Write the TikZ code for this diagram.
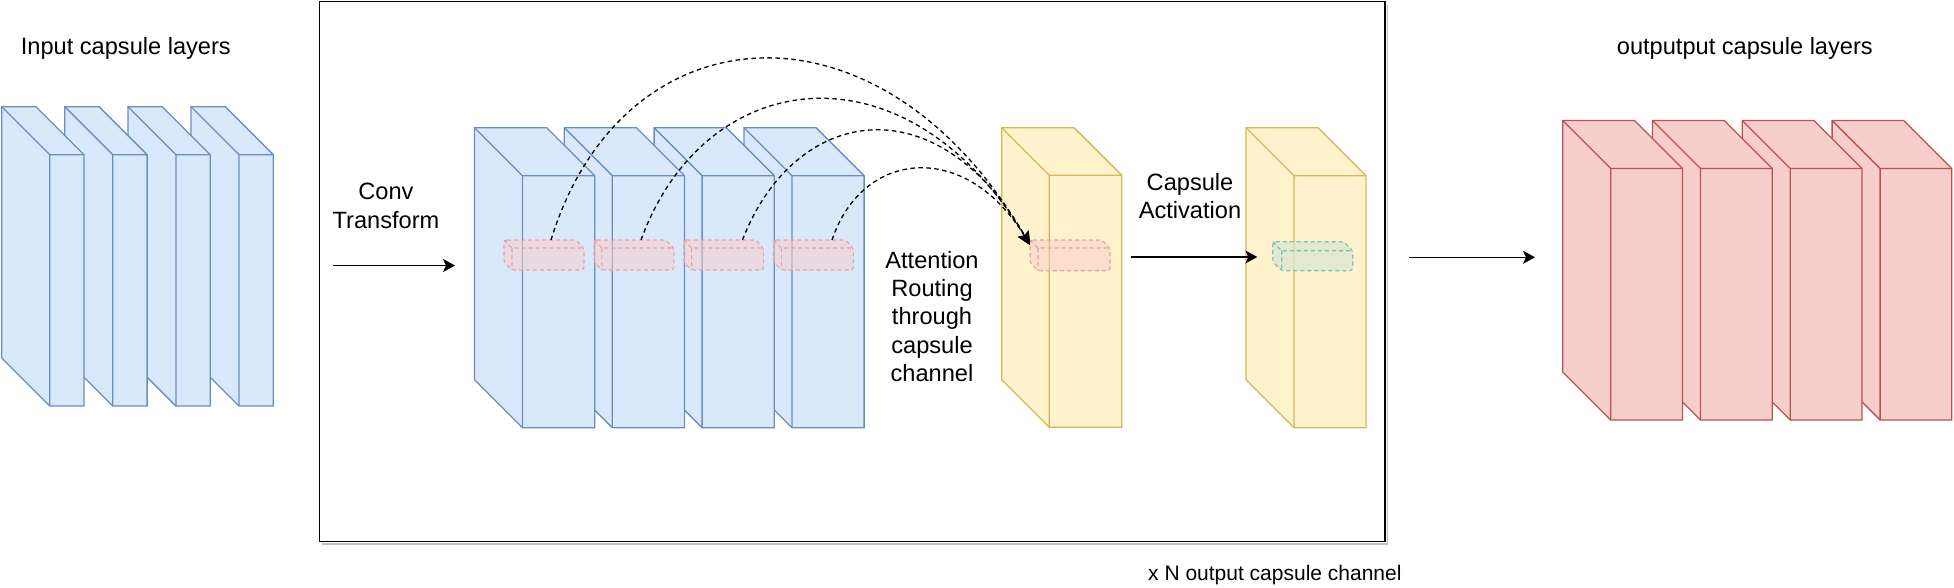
\documentclass[tikz,border=0pt]{standalone}
\usepackage{fontspec}
\setmainfont{Liberation Sans}
\usetikzlibrary{arrows.meta}
\definecolor{bluefill}{HTML}{DAE8FC}
\definecolor{bluedraw}{HTML}{6C8EBF}
\definecolor{yelfill}{HTML}{FFF2CC}
\definecolor{yeldraw}{HTML}{D6B656}
\definecolor{redfill}{HTML}{F8CECC}
\definecolor{reddraw}{HTML}{B85450}
\definecolor{greenfill}{HTML}{D5E8D4}
\definecolor{pinkdash}{RGB}{232,160,160}
\definecolor{tealdash}{RGB}{120,192,182}
\newcommand{\cubebox}[6]{%
 \draw[#6] (#1,#2) -- ({#1+#3-#5},#2) -- ({#1+#3},{#2+#5}) -- ({#1+#3},{#2+#4}) -- ({#1+#5},{#2+#4}) -- (#1,{#2+#4-#5}) -- cycle;
 \draw[#6,fill=none,sharp corners] (#1,#2) -- ({#1+#5},{#2+#5}) -- ({#1+#3},{#2+#5}) ({#1+#5},{#2+#5}) -- ({#1+#5},{#2+#4});
}
\tikzset{
 bluecube/.style={fill=bluefill, draw=bluedraw, line width=1.3pt},
 yelcube/.style={fill=yelfill, draw=yeldraw, line width=1.3pt},
 redcube/.style={fill=redfill, draw=reddraw, line width=1.3pt},
 pinkbox/.style={fill=redfill, fill opacity=0.55, draw=pinkdash, dash pattern=on 4pt off 3pt, line width=1.1pt, rounded corners=3pt},
 greenbox/.style={fill=greenfill, fill opacity=0.7, draw=tealdash, dash pattern=on 4pt off 3pt, line width=1.1pt, rounded corners=3pt},
 flow/.style={line width=1.3pt, -{Stealth[length=12pt,width=13pt,inset=3pt]}},
 route/.style={line width=1.3pt, dash pattern=on 4.5pt off 3.5pt, -{Stealth[length=13pt,width=12pt,inset=2pt]}},
 txt/.style={font=\fontsize{23.6}{28.3}\selectfont, inner sep=0pt, align=center},
}
\begin{document}
\begin{tikzpicture}[x=1pt,y=-1pt]
\useasboundingbox (0,0) rectangle (1954,588);
\fill[white] (0,0) rectangle (1954,588);
% frame with shadow
\draw[black!25, line width=1.3pt] (1387.5,5) -- (1387.5,544) -- (322,544);
\draw[line width=1.2pt] (319.3,1.7) rectangle (1385,541.7);
% input cubes
\foreach \i in {3,2,1,0} {
  \pgfmathsetmacro\cx{1.7+63.1*\i}
  \cubebox{\cx}{106.7}{82.3}{299.3}{48}{bluecube}
}
% middle cubes
\foreach \i in {3,2,1,0} {
  \pgfmathsetmacro\cx{474.5+89.8*\i}
  \cubebox{\cx}{127.7}{120.2}{300}{48}{bluecube}
}
\foreach \bx in {504,593.8,683.6,773.4} {
  \cubebox{\bx}{240}{80}{30}{8}{pinkbox}
}
% yellow cubes
\cubebox{1001.7}{127.7}{120}{299.6}{47.6}{yelcube}
\cubebox{1246}{127.7}{120}{300}{48}{yelcube}
\cubebox{1030}{240}{80}{30.7}{8}{pinkbox}
\cubebox{1272.7}{241.7}{80}{29}{9}{greenbox}
% red cubes
\foreach \i in {3,2,1,0} {
  \pgfmathsetmacro\cx{1562.7+89.8*\i}
  \cubebox{\cx}{120.5}{119.7}{299.5}{48}{redcube}
}
% routing curves
\coordinate (s1) at (551,240);
\coordinate (s2) at (641,240);
\coordinate (s3) at (742.4,240);
\coordinate (s4) at (832,240);
\coordinate (t) at (1030,245);
\draw[route] (s1) .. controls (622,8) and (880,-12) .. (t);
\draw[route] (s2) .. controls (705,64) and (907,40) .. (t);
\draw[route] (s3) .. controls (795,105) and (936.5,83) .. (t);
\draw[route] (s4) .. controls (862,150) and (965,139) .. (t);
% flow arrows
\coordinate (a1) at (333.3,265.5);
\coordinate (a2) at (455,265.5);
\coordinate (b1) at (1130.7,257);
\coordinate (b2) at (1257.3,257);
\coordinate (c1) at (1409,257.3);
\coordinate (c2) at (1535,257.3);
\draw[flow] (a1) -- (a2);
\draw[flow] (b1) -- (b2);
\draw[flow] (c1) -- (c2);
% texts
\node[txt, anchor=base west] (inl) at (20.7,55) {Input capsule layers};
\node[txt, anchor=base west] (outl) at (1616.7,55) {outputput capsule layers};
\node[txt] (conv) at (386,206) {Conv\\Transform};
\node[txt] (attn) at (932,316.5) {Attention\\Routing\\through\\capsule\\channel};
\node[txt] (act) at (1190,196) {Capsule\\Activation};
\node[font=\fontsize{21}{25}\selectfont, inner sep=0pt, anchor=base west] (xn) at (1148,580) {x N output capsule channel};
\end{tikzpicture}
\end{document}
